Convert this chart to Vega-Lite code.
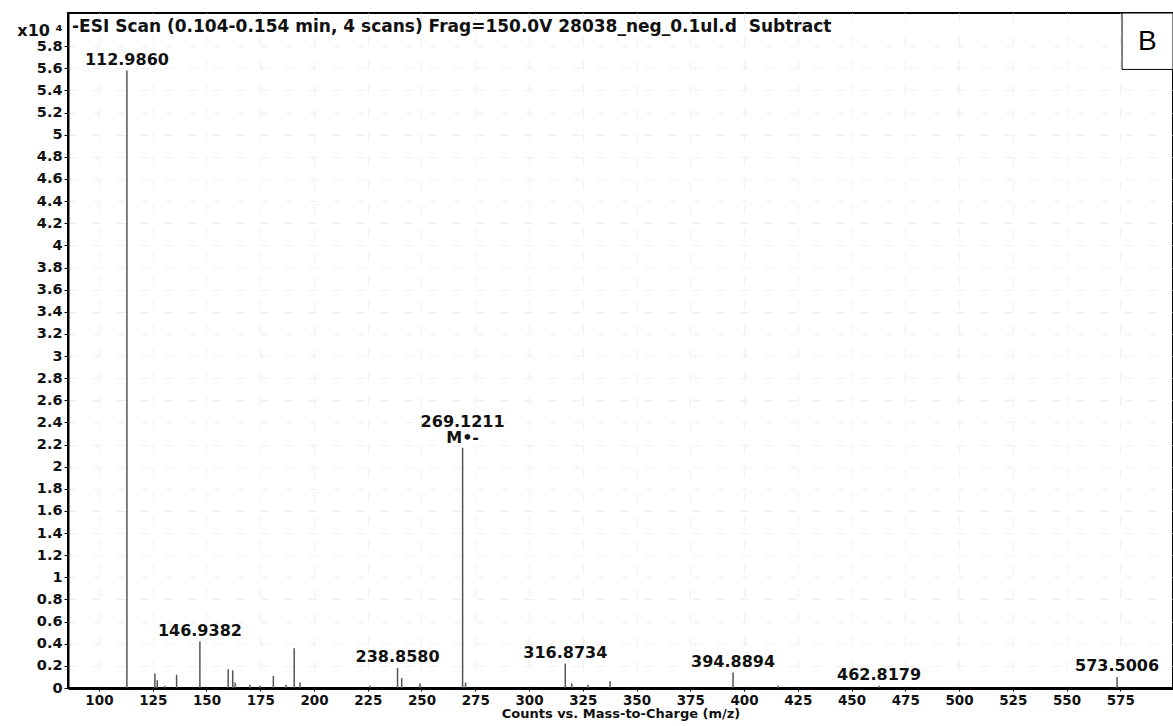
{
  "$schema": "https://vega.github.io/schema/vega-lite/v6.json",
  "autosize": "none",
  "width": 1105,
  "height": 675,
  "padding": {"left": 68, "top": 13, "right": 0, "bottom": 38},
  "background": "white",
  "title": {
    "text": "-ESI Scan (0.104-0.154 min, 4 scans) Frag=150.0V 28038_neg_0.1ul.d\u00a0\u00a0Subtract",
    "anchor": "start",
    "frame": "group",
    "offset": -23,
    "dx": 4,
    "font": "DejaVu Sans",
    "fontSize": 17,
    "fontWeight": "bold",
    "color": "#111"
  },
  "config": {
    "view": {"stroke": "black", "strokeWidth": 2},
    "axis": {
      "labelFont": "DejaVu Sans",
      "labelFontWeight": "bold",
      "labelFontSize": 14.5,
      "labelColor": "#111",
      "labelOverlap": false,
      "titleFont": "DejaVu Sans",
      "titleFontWeight": "bold",
      "titleColor": "#111",
      "domainColor": "black",
      "tickColor": "black",
      "gridColor": "#eeeeee",
      "gridDash": [8, 16],
      "gridWidth": 1
    }
  },
  "datasets": {
    "peaks": [
      {"mz": 112.986, "intensity": 5.58},
      {"mz": 126.0, "intensity": 0.13},
      {"mz": 127.1, "intensity": 0.07},
      {"mz": 130.5, "intensity": 0.02},
      {"mz": 136.1, "intensity": 0.12},
      {"mz": 146.938, "intensity": 0.42},
      {"mz": 160.1, "intensity": 0.17},
      {"mz": 162.2, "intensity": 0.16},
      {"mz": 163.3, "intensity": 0.05},
      {"mz": 170.2, "intensity": 0.03},
      {"mz": 175.0, "intensity": 0.02},
      {"mz": 181.1, "intensity": 0.11},
      {"mz": 187.0, "intensity": 0.03},
      {"mz": 190.8, "intensity": 0.36},
      {"mz": 193.5, "intensity": 0.05},
      {"mz": 226.0, "intensity": 0.02},
      {"mz": 238.858, "intensity": 0.18},
      {"mz": 240.8, "intensity": 0.09},
      {"mz": 249.3, "intensity": 0.04},
      {"mz": 269.121, "intensity": 2.17},
      {"mz": 270.5, "intensity": 0.05},
      {"mz": 316.873, "intensity": 0.22},
      {"mz": 319.9, "intensity": 0.04},
      {"mz": 327.4, "intensity": 0.03},
      {"mz": 337.7, "intensity": 0.06},
      {"mz": 394.889, "intensity": 0.14},
      {"mz": 415.8, "intensity": 0.02},
      {"mz": 462.818, "intensity": 0.02},
      {"mz": 573.501, "intensity": 0.1}
    ],
    "labels": [
      {"mz": 112.986, "intensity": 5.58, "label": "112.9860"},
      {"mz": 146.938, "intensity": 0.42, "label": "146.9382"},
      {"mz": 238.858, "intensity": 0.18, "label": "238.8580"},
      {"mz": 316.873, "intensity": 0.22, "label": "316.8734"},
      {"mz": 394.889, "intensity": 0.14, "label": "394.8894"},
      {"mz": 462.818, "intensity": 0.02, "label": "462.8179"},
      {"mz": 573.501, "intensity": 0.1, "label": "573.5006"}
    ],
    "mlabel": [
      {"mz": 269.121, "intensity": 2.17, "label": "269.1211\nM•-"}
    ]
  },
  "layer": [
    {
      "data": {"name": "peaks"},
      "mark": {"type": "rule", "color": "#555", "strokeWidth": 1.5},
      "encoding": {
        "x": {
          "field": "mz",
          "type": "quantitative",
          "scale": {"domain": [85.6, 599.5], "nice": false, "zero": false},
          "axis": {
            "values": [100, 125, 150, 175, 200, 225, 250, 275, 300, 325, 350, 375, 400, 425, 450, 475, 500, 525, 550, 575],
            "tickCount": 40,
            "title": "Counts vs. Mass-to-Charge (m/z)",
            "titleFontSize": 13,
            "titlePadding": 1,
            "labelFontSize": 13.5,
            "domainWidth": 3,
            "tickSize": 3,
            "labelPadding": 2,
            "grid": true
          }
        },
        "y": {
          "field": "intensity",
          "type": "quantitative",
          "scale": {"domain": [0, 6.1], "nice": false},
          "axis": {
            "values": [0, 0.2, 0.4, 0.6, 0.8, 1, 1.2, 1.4, 1.6, 1.8, 2, 2.2, 2.4, 2.6, 2.8, 3, 3.2, 3.4, 3.6, 3.8, 4, 4.2, 4.4, 4.6, 4.8, 5, 5.2, 5.4, 5.6, 5.8],
            "tickCount": 60,
            "format": ".1~f",
            "title": "x10 ⁴",
            "titleAngle": 0,
            "titleAlign": "right",
            "titleBaseline": "middle",
            "titleX": -6,
            "titleY": 17,
            "titleFontSize": 16,
            "domainWidth": 2,
            "tickSize": 4,
            "labelPadding": 2,
            "grid": true
          }
        },
        "y2": {"datum": 0}
      }
    },
    {
      "data": {"name": "labels"},
      "mark": {
        "type": "text",
        "baseline": "bottom",
        "align": "center",
        "dy": -3,
        "font": "DejaVu Sans",
        "fontWeight": "bold",
        "fontSize": 16,
        "color": "#111"
      },
      "encoding": {
        "x": {"field": "mz", "type": "quantitative"},
        "y": {"field": "intensity", "type": "quantitative"},
        "text": {"field": "label"}
      }
    },
    {
      "data": {"name": "mlabel"},
      "mark": {
        "type": "text",
        "baseline": "bottom",
        "align": "center",
        "dy": -18,
        "font": "DejaVu Sans",
        "fontWeight": "bold",
        "fontSize": 16,
        "color": "#111",
        "lineBreak": "\n",
        "lineHeight": 16
      },
      "encoding": {
        "x": {"field": "mz", "type": "quantitative"},
        "y": {"field": "intensity", "type": "quantitative"},
        "text": {"field": "label"}
      }
    },
    {
      "data": {"values": [{"panel": "B"}]},
      "mark": {"type": "rect", "fill": "white", "stroke": "black", "strokeWidth": 1},
      "encoding": {
        "x": {"datum": 575.8},
        "x2": {"datum": 599.5},
        "y": {"datum": 5.59},
        "y2": {"datum": 6.1}
      }
    },
    {
      "data": {"values": [{"panel": "B"}]},
      "mark": {"type": "text", "font": "Liberation Sans", "fontSize": 28, "align": "center", "baseline": "middle", "color": "black"},
      "encoding": {
        "x": {"datum": 587.6},
        "y": {"datum": 5.84},
        "text": {"field": "panel"}
      }
    }
  ]
}
